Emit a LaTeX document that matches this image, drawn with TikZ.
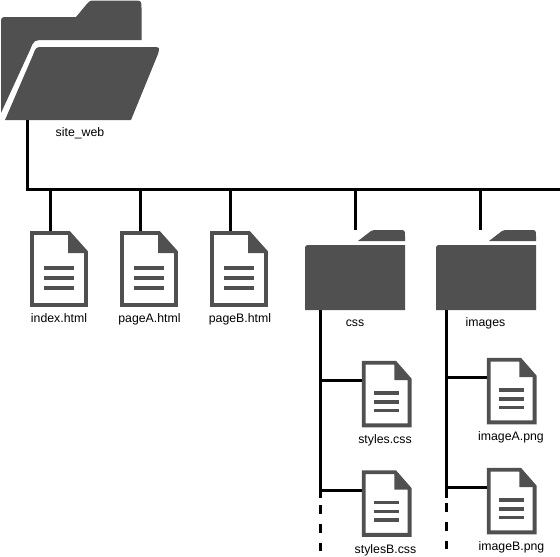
\documentclass[tikz,border=0pt]{standalone}
\usepackage{fontspec}
\setmainfont{Liberation Sans}
\usepackage{tikz}
\usetikzlibrary{positioning}
\definecolor{icongray}{HTML}{505050}
\tikzset{
  wire/.style={line width=3pt,black},
  tick/.style={line width=3pt,black,dash pattern=on 8.5pt off 10.5pt},
  caption/.style={inner sep=0pt,font=\fontsize{12.3}{14}\selectfont,text height=9pt,text depth=3pt},
  frame/.style={inner sep=0pt,minimum width=#1,transform shape,anchor=north west},
  smallfile/.style={xscale=0.85,yscale=0.87},
  fileicon/.pic={
    \node[frame=58pt,minimum height=76pt] (-body) at (0,0) {};
    \draw[icongray,line width=3.8pt,line join=miter] (2,2) -- (39,2) -- (56,21) -- (56,74) -- (2,74) -- cycle;
    \fill[icongray] (38,1) -- (38,22) -- (58,22) -- cycle;
    \foreach \y in {37,47,57} \draw[icongray,line width=3.4pt] (14,\y) -- (44,\y);
  },
  foldericon/.pic={
    \node[frame=100pt,minimum height=80pt] (-body) at (0,0) {};
    \fill[icongray] (0,80) -- (0,21) .. controls (0,15) .. (6,15) -- (100,15) -- (100,80) -- cycle;
    \fill[icongray] (53,11) -- (66,1) .. controls (67,0) .. (69,0) -- (94,0) .. controls (100,0) .. (100,6) -- (100,11) -- cycle;
  },
}
\begin{document}
\begin{tikzpicture}[x=1pt,y=-1pt]
\useasboundingbox (0,0) rectangle (560,557);
% big folder
\node[frame=160pt,minimum height=120pt] (site) at (0,0) {};
\fill[icongray] (1,113) -- (1,24) .. controls (1,17) .. (8,17) -- (76,17) -- (86,5) .. controls (90,0.5) .. (95,0.5) -- (133,0.5) .. controls (141.5,0.5) .. (141.5,8) -- (141.5,40) -- (45,40) .. controls (34,40) .. (30,50) -- cycle;
\fill[icongray] (5,120) -- (33,55) .. controls (36,47) .. (43,47) -- (152,47) .. controls (160,47) .. (158,54) -- (131,120) -- cycle;
% icons
\pic (index) at (30,231) {fileicon};
\pic (pageA) at (120,231) {fileicon};
\pic (pageB) at (210,231) {fileicon};
\pic (cssdir) at (305,230) {foldericon};
\pic (imgdir) at (436,230) {foldericon};
\pic[smallfile] (styles) at (362,361) {fileicon};
\pic[smallfile] (stylesB) at (362,470.5) {fileicon};
\pic[smallfile] (imageA) at (487,358) {fileicon};
\pic[smallfile] (imageB) at (487,468) {fileicon};
% captions
\node[caption] (sitetxt) at (80,133) {site\_web};
\node[caption] (indextxt) at (59,319.5) {index.html};
\node[caption] (pageAtxt) at (149.5,319.5) {pageA.html};
\node[caption] (pageBtxt) at (240,319.5) {pageB.html};
\node[caption] (csstxt) at (355,323) {css};
\node[caption] (imgtxt) at (485.5,323) {images};
\node[caption] (stylestxt) at (385,440) {styles.css};
\node[caption] (stylesBtxt) at (385.5,550) {stylesB.css};
\node[caption] (imageAtxt) at (511,437) {imageA.png};
\node[caption] (imageBtxt) at (511.5,547) {imageB.png};
% tree
\coordinate (rootfoot) at (27.5,120);
\coordinate (busend) at (560,189);
\draw[wire] (rootfoot) |- (busend);
\foreach \x/\t in {50/index-body,140/pageA-body,230/pageB-body,355/cssdir-body,480/imgdir-body}
  \draw[wire] (\x,189) -- (\x,189 |- \t.north);
\coordinate (csstop) at (320.5,310);
\coordinate (cssend) at (320.5,498);
\coordinate (cssdash) at (320.5,505);
\coordinate (cssdashend) at (320.5,551);
\coordinate (imgtop) at (446,310);
\coordinate (imgend) at (446,498);
\coordinate (imgdash) at (446,503);
\coordinate (imgdashend) at (446,549);
\draw[wire] (csstop) -- (cssend);
\draw[tick] (cssdash) -- (cssdashend);
\draw[wire] (imgtop) -- (imgend);
\draw[tick] (imgdash) -- (imgdashend);
\draw[wire] (320.5,380) -- (styles-body.west |- 320.5,380);
\draw[wire] (320.5,490) -- (stylesB-body.west |- 320.5,490);
\draw[wire] (446,377) -- (imageA-body.west |- 446,377);
\draw[wire] (446,487.5) -- (imageB-body.west |- 446,487.5);
\end{tikzpicture}
\end{document}
